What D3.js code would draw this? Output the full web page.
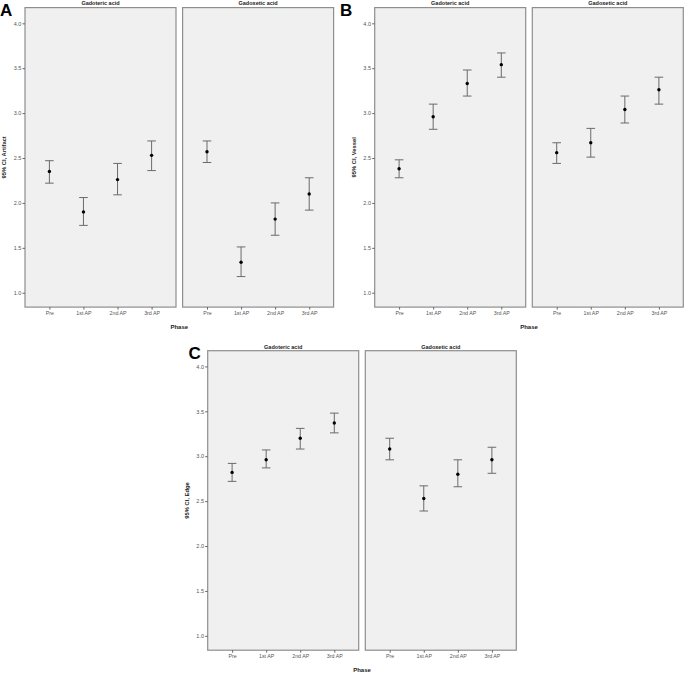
<!DOCTYPE html>
<html>
<head>
<meta charset="utf-8">
<script src="https://cdn.jsdelivr.net/npm/d3@7"></script>
<style>
  body { margin: 0; background: #fff; }
  svg { display: block; font-family: "Liberation Sans", Arial, sans-serif; }
</style>
</head>
<body>
<div id="chart"></div>
<script>
const phases = ["Pre", "1st AP", "2nd AP", "3rd AP"];
const agents = ["Gadoteric acid", "Gadoxetic acid"];
const yTicks = [1.0, 1.5, 2.0, 2.5, 3.0, 3.5, 4.0];

// [gadoteric, gadoxetic]
const artifactMean = [[2.35, 1.90, 2.26, 2.53], [2.57, 1.34, 1.82, 2.10]];
const artifactLow = [[2.22, 1.75, 2.09, 2.36], [2.45, 1.18, 1.64, 1.92]];
const artifactHigh = [[2.47, 2.06, 2.44, 2.69], [2.69, 1.51, 2.00, 2.28]];

const vesselMean = [[2.38, 2.96, 3.33, 3.54], [2.56, 2.67, 3.04, 3.26]];
const vesselLow = [[2.28, 2.82, 3.19, 3.40], [2.44, 2.51, 2.89, 3.10]];
const vesselHigh = [[2.48, 3.10, 3.48, 3.67], [2.67, 2.83, 3.19, 3.40]];

const edgeMean = [[2.82, 2.96, 3.20, 3.37], [3.08, 2.53, 2.80, 2.96]];
const edgeLow = [[2.72, 2.87, 3.08, 3.26], [2.96, 2.39, 2.66, 2.81]];
const edgeHigh = [[2.92, 3.07, 3.31, 3.48], [3.20, 2.67, 2.96, 3.10]];

const width = 685;
const height = 673;

const svg = d3.select("#chart")
    .append("svg")
    .attr("width", width)
    .attr("height", height);

const plotW = 151;
const plotH = 299.5;
const gap = 6.6;

const y = d3.scaleLinear().domain([0.84, 4.175]).range([plotH, 0]);
const x = d3.scalePoint().domain(phases).range([0, plotW]).padding(0.716);

function drawPanel(letter, letterX, left, top, yLabel, means, lows, highs) {
    const g = svg.append("g").attr("transform", `translate(${left}, ${top})`);

    // panel letter, placed in page coords
    svg.append("text")
        .attr("x", letterX)
        .attr("y", top + 8)
        .attr("font-size", 17)
        .attr("font-weight", "bold")
        .text(letter);

    agents.forEach((agent, a) => {
        const p = g.append("g").attr("transform", `translate(${a * (plotW + gap)}, 0)`);

        p.append("rect")
            .attr("width", plotW)
            .attr("height", plotH)
            .attr("fill", "#f0f0f0")
            .attr("stroke", "#8e8e8e")
            .attr("stroke-width", 1.2);

        p.append("text")
            .attr("x", plotW / 2)
            .attr("y", -2.2)
            .attr("text-anchor", "middle")
            .attr("font-size", 5.5)
            .attr("font-weight", "bold")
            .attr("fill", "#222")
            .text(agent);

        const xAxis = p.append("g")
            .attr("transform", `translate(0, ${plotH})`)
            .call(d3.axisBottom(x).tickSize(2.5).tickPadding(2));
        xAxis.select(".domain").remove();
        xAxis.selectAll("line").attr("stroke", "#666");
        xAxis.selectAll("text").attr("font-size", 5.3).attr("fill", "#555").attr("font-family", null);

        if (a === 0) {
            const yAxis = p.append("g")
                .call(d3.axisLeft(y).tickValues(yTicks).tickFormat(d3.format(".1f")).tickSize(2.5).tickPadding(1.2));
            yAxis.select(".domain").remove();
            yAxis.selectAll("line").attr("stroke", "#666");
            yAxis.selectAll("text").attr("font-size", 5.5).attr("fill", "#555").attr("font-family", null);
        }

        const rows = phases.map((ph, i) => ({ ph, m: means[a][i], lo: lows[a][i], hi: highs[a][i] }));

        p.selectAll(".bar")
            .data(rows)
            .join("line")
            .attr("x1", d => x(d.ph))
            .attr("x2", d => x(d.ph))
            .attr("y1", d => y(d.lo))
            .attr("y2", d => y(d.hi))
            .attr("stroke", "#6a6a6a")
            .attr("stroke-width", 1);

        ["lo", "hi"].forEach(k => {
            p.selectAll(".cap-" + k)
                .data(rows)
                .join("line")
                .attr("x1", d => x(d.ph) - 4.3)
                .attr("x2", d => x(d.ph) + 4.3)
                .attr("y1", d => y(d[k]))
                .attr("y2", d => y(d[k]))
                .attr("stroke", "#6a6a6a")
                .attr("stroke-width", 1);
        });

        p.selectAll("circle")
            .data(rows)
            .join("circle")
            .attr("cx", d => x(d.ph))
            .attr("cy", d => y(d.m))
            .attr("r", 1.7)
            .attr("fill", "#000");
    });

    g.append("text")
        .attr("transform", `translate(${-19}, ${plotH / 2}) rotate(-90)`)
        .attr("text-anchor", "middle")
        .attr("font-size", 5.8)
        .attr("font-weight", "bold")
        .attr("fill", "#222")
        .text(yLabel);

    g.append("text")
        .attr("x", plotW + gap / 2)
        .attr("y", plotH + 21.5)
        .attr("text-anchor", "middle")
        .attr("font-size", 6)
        .attr("font-weight", "bold")
        .attr("fill", "#222")
        .text("Phase");
}

drawPanel("A", 0, 25, 7.6, "95% CI, Artifact", artifactMean, artifactLow, artifactHigh);
drawPanel("B", 340, 374.7, 7.6, "95% CI, Vessel", vesselMean, vesselLow, vesselHigh);
drawPanel("C", 188.5, 207.7, 350.7, "95% CI, Edge", edgeMean, edgeLow, edgeHigh);
</script>
</body>
</html>
